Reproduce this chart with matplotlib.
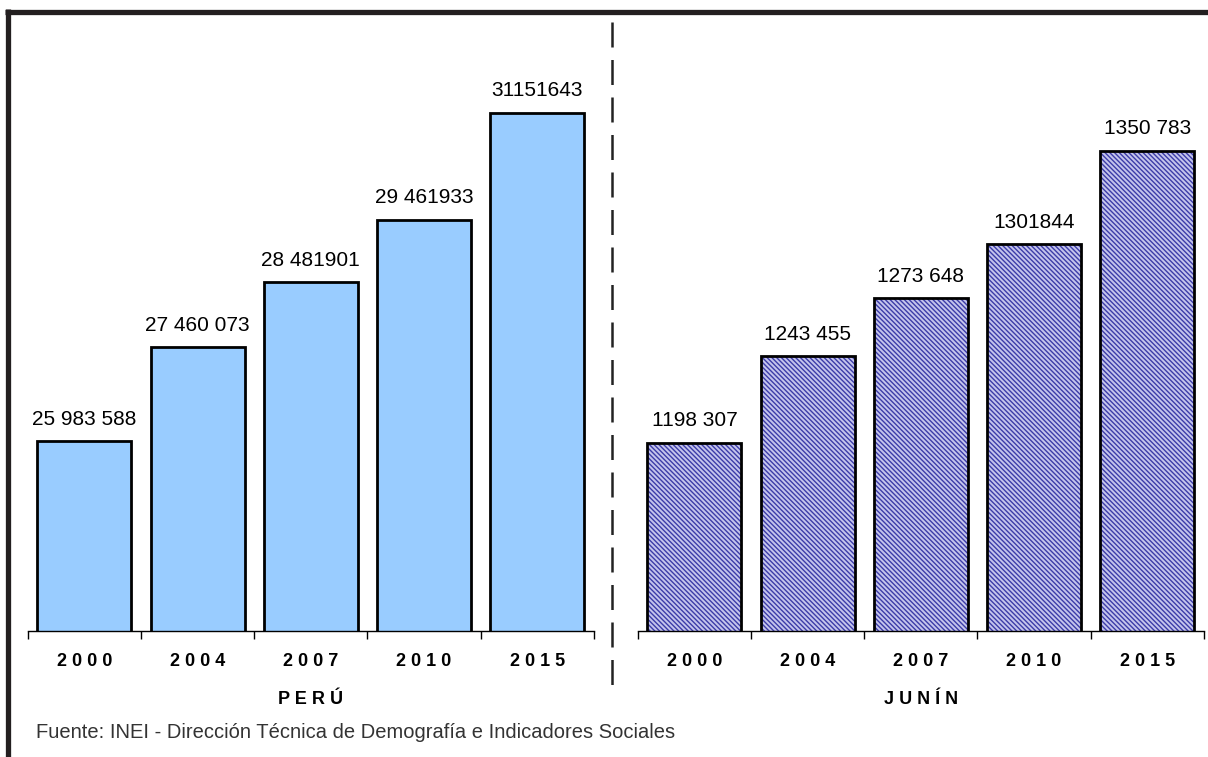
import matplotlib.pyplot as plt
from matplotlib.lines import Line2D
import numpy as np

years = ["2000", "2004", "2007", "2010", "2015"]
peru = [25983588, 27460073, 28481901, 29461933, 31151643]
peru_labels = ["25 983 588", "27 460 073", "28 481901", "29 461933", "31151643"]
junin = [1198307, 1243455, 1273648, 1301844, 1350783]
junin_labels = ["1198 307", "1243 455", "1273 648", "1301844", "1350 783"]
source = "Fuente: INEI - Dirección Técnica de Demografía e Indicadores Sociales"

plt.rcParams['font.family'] = ['Liberation Sans', 'DejaVu Sans']
plt.rcParams['hatch.linewidth'] = 1.0

fig = plt.figure(figsize=(12.08, 7.57), dpi=100)

def spaced(s):
    return " ".join(s)

def setup(ax, title, ylim):
    x = np.arange(len(years))
    ax.set_xlim(-0.5, 4.5)
    ax.set_ylim(*ylim)
    for s in ["top", "right", "left"]:
        ax.spines[s].set_visible(False)
    ax.spines["bottom"].set_linewidth(1.0)
    ax.set_yticks([])
    ax.set_xticks(x)
    ax.set_xticklabels([spaced(y) for y in years], fontsize=13, fontweight="bold")
    ax.tick_params(axis="x", which="major", length=0, pad=16)
    ax.set_xticks(np.arange(-0.5, 5), minor=True)
    ax.tick_params(axis="x", which="minor", length=6, width=1, direction="out")
    ax.set_xlabel(spaced(title), fontsize=13, fontweight="bold", labelpad=15)
    return x

# Perú
ax1 = fig.add_axes([0.0229, 0.1664, 0.4688, 0.815])
x = setup(ax1, "PERÚ", (23.0e6, 32.7e6))
ax1.bar(x, peru, width=0.83, color="#99ccff", edgecolor="black", linewidth=2)
for xi, v, lab in zip(x, peru, peru_labels):
    ax1.annotate(lab, (xi, v), xytext=(0, 12), textcoords="offset points",
                 ha="center", va="baseline", fontsize=15)

# Junín
ax2 = fig.add_axes([0.528, 0.1664, 0.4686, 0.815])
x = setup(ax2, "JUNÍN", (1.10e6, 1.422e6))
ax2.bar(x, junin, width=0.83, color="#c4c4ec", edgecolor="#3c3ca8",
        hatch="\\" * 7, linewidth=0)
ax2.bar(x, junin, width=0.83, fill=False, edgecolor="black", linewidth=2)
for xi, v, lab in zip(x, junin, junin_labels):
    ax2.annotate(lab, (xi, v), xytext=(0, 12), textcoords="offset points",
                 ha="center", va="baseline", fontsize=15)

# frame and divider
fig.add_artist(Line2D([0.0045, 1], [0.9848, 0.9848], color="#231f20", lw=3.8,
                      solid_capstyle="butt", transform=fig.transFigure))
fig.add_artist(Line2D([0.0070, 0.0070], [0.988, 0], color="#231f20", lw=3.8,
                      solid_capstyle="butt", transform=fig.transFigure))
fig.add_artist(Line2D([0.5066, 0.5066], [0.971, 0.088], color="#222222", lw=1.8,
                      linestyle=(0, (10, 5)), transform=fig.transFigure))

fig.text(0.030, 0.033, source, fontsize=14.5, color="#333333", va="center")

fig.savefig("out.png", dpi=100)
